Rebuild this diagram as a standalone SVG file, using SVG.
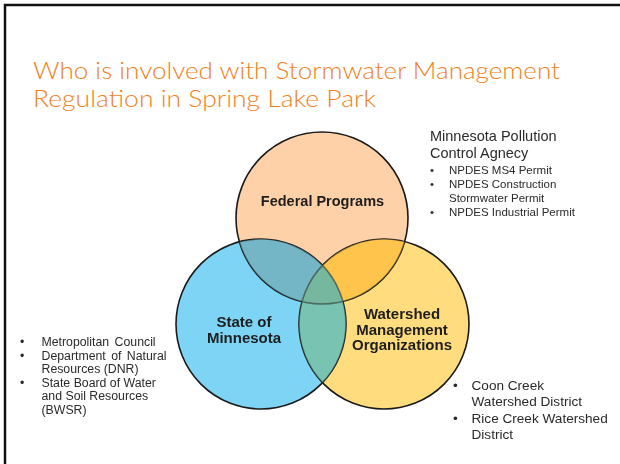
<svg xmlns="http://www.w3.org/2000/svg" width="620" height="464" viewBox="0 0 620 464">
<style>
.title{font-family:Lato,"Liberation Sans",sans-serif;font-size:24px;fill:#F27F1B;font-weight:300}
.lbl{font-family:"Liberation Sans",Arial,sans-serif;font-weight:bold;fill:#1e1e1e;text-anchor:middle}
.body{font-family:"Liberation Sans",Arial,sans-serif;fill:#2a2a2a}
.ring{fill:none;stroke:#1a1a1a;stroke-width:1.6}
</style>
<defs>
<clipPath id="cTop"><circle cx="322" cy="218" r="86"/></clipPath>
<clipPath id="cLeft"><circle cx="261" cy="324" r="85"/></clipPath>
<clipPath id="cRight"><circle cx="384" cy="324" r="85"/></clipPath>
<g id="overlaps">
<g clip-path="url(#cTop)"><circle cx="261" cy="324" r="85" fill="#74B6C5"/></g>
<g clip-path="url(#cTop)"><circle cx="384" cy="324" r="85" fill="#FFC44D"/></g>
<g clip-path="url(#cLeft)"><circle cx="384" cy="324" r="85" fill="#78C3B1"/></g>
<g clip-path="url(#cTop)"><g clip-path="url(#cLeft)"><circle cx="384" cy="324" r="85" fill="#77B7A0"/></g></g>
</g>
</defs>
<rect width="620" height="464" fill="#fff"/>
<path d="M5,464 V5 H620" fill="none" stroke="#111" stroke-width="2.5"/>
<text class="title" x="33" y="79" textLength="527" lengthAdjust="spacingAndGlyphs">Who is involved with Stormwater Management</text>
<text class="title" x="33" y="107" textLength="343" lengthAdjust="spacingAndGlyphs">Regulation in Spring Lake Park</text>
<g id="venn-fills">
<circle cx="322" cy="218" r="86" fill="#FFD1A8"/>
<circle cx="261" cy="324" r="85" fill="#7DD4F5"/>
<circle cx="384" cy="324" r="85" fill="#FFDC7E"/>
<use href="#overlaps"/>
</g>
<g id="connectors">
<circle class="ring" cx="322" cy="218" r="86"/>
<circle class="ring" cx="261" cy="324" r="85"/>
<circle class="ring" cx="384" cy="324" r="85"/>
<use href="#overlaps" opacity="0.5"/>
</g>
<g id="federal">
<text class="lbl" x="322.5" y="206" font-size="14.5">Federal Programs</text>
</g>
<g id="state">
<text class="lbl" x="244" y="327" font-size="15">State of</text>
<text class="lbl" x="244" y="343" font-size="15">Minnesota</text>
</g>
<g id="watershed">
<text class="lbl" x="402" y="319" font-size="15">Watershed</text>
<text class="lbl" x="402" y="334.5" font-size="15">Management</text>
<text class="lbl" x="402" y="350" font-size="15">Organizations</text>
</g>
<g id="mpca" class="body">
<text x="430" y="140.5" font-size="14.5">Minnesota Pollution</text>
<text x="430" y="158" font-size="14.5">Control Agnecy</text>
<g font-size="11.5">
<text x="430" y="174">•</text><text x="449" y="174">NPDES MS4 Permit</text>
<text x="430" y="188">•</text><text x="449" y="188">NPDES Construction</text>
<text x="449" y="201.5">Stormwater Permit</text>
<text x="430" y="216">•</text><text x="449" y="216">NPDES Industrial Permit</text>
</g>
</g>
<g id="state-list" class="body" font-size="12.3">
<text x="20" y="346">•</text><text x="41.5" y="346" word-spacing="2">Metropolitan Council</text>
<text x="20" y="359.5">•</text><text x="41.5" y="359.5" word-spacing="2">Department of Natural</text>
<text x="41.5" y="373">Resources (DNR)</text>
<text x="20" y="386.5">•</text><text x="41.5" y="386.5">State Board of Water</text>
<text x="41.5" y="400">and Soil Resources</text>
<text x="41.5" y="413.5">(BWSR)</text>
</g>
<g id="wmo-list" class="body" font-size="13.6">
<text x="453" y="390">•</text><text x="471.5" y="390">Coon Creek</text>
<text x="471.5" y="406">Watershed District</text>
<text x="453" y="423">•</text><text x="471.5" y="423">Rice Creek Watershed</text>
<text x="471.5" y="439">District</text>
</g>
</svg>
